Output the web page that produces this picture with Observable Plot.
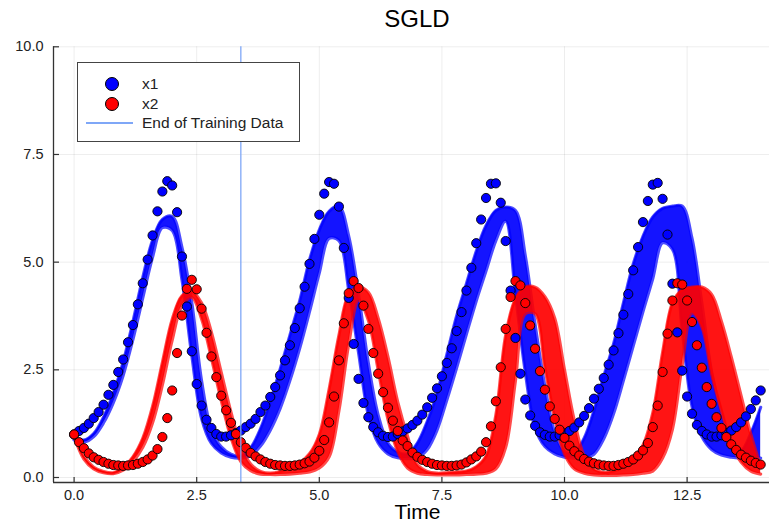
<!DOCTYPE html>
<html><head><meta charset="utf-8">
<script src="https://cdn.jsdelivr.net/npm/d3@7"></script>
<script src="https://cdn.jsdelivr.net/npm/@observablehq/plot@0.6"></script>
<style>
body{margin:0;background:#fff;font-family:"Liberation Sans",Arial,Helvetica,sans-serif;}
#wrap{position:relative;width:769px;height:531px;overflow:hidden;background:#fff;}
#chart{position:absolute;left:0;top:0;}
#title{position:absolute;left:59px;width:716px;top:5px;text-align:center;font-size:24px;color:#000;}
#legend{position:absolute;left:77px;top:62px;width:221px;height:78px;border:1px solid #444;background:#fff;}
.lg{position:absolute;left:64px;font-size:15.5px;color:#222;line-height:18px;}
.mk{position:absolute;width:14px;height:14px;border-radius:50%;border:1px solid #000;box-sizing:border-box;left:26.5px;}
.ln{position:absolute;left:8px;width:47px;height:2px;background:#7fa7f7;}
</style></head><body>
<div id="wrap">
  <div id="chart"></div>
  <div id="title">SGLD</div>
  <div id="legend">
    <div class="mk" style="top:13.5px;background:#0000ff"></div><div class="lg" style="top:12px">x1</div>
    <div class="mk" style="top:33.5px;background:#ff0000"></div><div class="lg" style="top:32px">x2</div>
    <div class="ln" style="top:59px"></div><div class="lg" style="top:51px">End of Training Data</div>
  </div>
</div>
<script>
// observed data (sampled every 0.1 from t = 0 to 14)
const x1 = [
1.00,1.08,1.15,1.25,1.38,1.52,1.69,1.92,2.15,2.45,
2.74,3.14,3.54,4.02,4.51,5.06,5.62,6.18,6.64,6.88,
6.78,6.16,5.13,3.97,2.93,2.17,1.67,1.34,1.15,1.01,
0.95,0.95,0.98,1.03,1.09,1.17,1.25,1.36,1.52,1.67,
1.87,2.10,2.37,2.72,3.07,3.47,3.93,4.43,4.96,5.54,
6.10,6.59,6.86,6.82,6.29,5.33,4.17,3.10,2.29,1.73,
1.40,1.17,1.05,0.97,0.94,0.95,1.01,1.07,1.14,1.22,
1.32,1.46,1.63,1.85,2.07,2.35,2.66,3.00,3.40,3.84,
4.34,4.87,5.44,5.99,6.49,6.82,6.83,6.38,5.49,4.34,
3.24,2.41,1.81,1.44,1.20,1.05,0.99,0.95,0.95,0.98,
1.02,1.08,1.16,1.28,1.43,1.61,1.83,2.06,2.31,2.62,
2.95,3.35,3.78,4.26,4.81,5.35,5.93,6.42,6.80,6.84,
6.47,5.64,4.50,3.37,2.48,1.88,1.48,1.22,1.08,1.00,
0.95,0.95,0.98,1.03,1.09,1.17,1.28,1.42,1.59,1.79,
2.02];
const x2 = [
1.00,0.82,0.68,0.56,0.47,0.41,0.36,0.32,0.29,0.28,
0.27,0.28,0.29,0.32,0.36,0.42,0.51,0.66,0.94,1.38,
2.02,2.89,3.76,4.38,4.59,4.37,3.92,3.36,2.81,2.33,
1.90,1.56,1.27,1.01,0.82,0.69,0.57,0.49,0.42,0.36,
0.32,0.29,0.28,0.27,0.27,0.28,0.30,0.33,0.37,0.46,
0.62,0.87,1.28,1.88,2.72,3.58,4.28,4.56,4.40,3.99,
3.45,2.89,2.41,1.98,1.62,1.32,1.08,0.86,0.73,0.58,
0.48,0.41,0.36,0.32,0.29,0.28,0.27,0.27,0.28,0.30,
0.35,0.42,0.49,0.60,0.82,1.19,1.77,2.56,3.45,4.19,
4.56,4.46,4.05,3.53,2.99,2.47,2.04,1.65,1.36,1.11,
0.92,0.74,0.61,0.51,0.43,0.37,0.33,0.30,0.28,0.27,
0.27,0.29,0.32,0.36,0.42,0.51,0.63,0.80,1.17,1.67,
2.45,3.34,4.11,4.51,4.48,4.11,3.61,3.07,2.55,2.10,
1.71,1.40,1.15,0.94,0.77,0.64,0.53,0.46,0.39,0.34,
0.30];
// posterior trajectory bundles: lower / upper edge, every 0.2 from t = 0 to 14
const x1BandLo = [0.87,0.82,0.95,1.27,1.74,2.37,3.21,4.17,5.12,5.80,5.74,
4.59,2.83,1.37,0.79,0.57,0.47,0.45,0.51,0.73,1.10,
1.60,2.25,3.00,3.85,4.75,5.55,5.50,4.35,2.90,1.45,
0.80,0.55,0.46,0.44,0.46,0.65,1.10,1.80,2.55,3.33,
4.10,4.80,5.50,5.95,4.25,2.45,1.15,0.72,0.55,0.47,
0.45,0.45,0.54,0.90,1.48,2.25,3.05,3.85,4.62,5.45,
5.30,3.40,1.65,0.95,0.65,0.52,0.47,0.45,0.45,0.45];
const x1BandHi = [0.93,0.87,1.02,1.40,1.96,2.68,3.62,4.64,5.51,5.99,6.06,
5.34,4.06,2.24,1.11,0.71,0.54,0.50,0.69,1.13,1.77,
2.51,3.30,4.10,5.05,5.75,6.18,6.30,5.60,4.25,2.65,
1.45,0.80,0.59,0.55,0.80,1.30,1.95,2.85,3.75,4.50,
5.25,5.85,6.20,6.28,6.20,5.15,3.55,2.12,1.05,0.60,
0.57,0.91,1.55,2.35,3.10,4.05,4.95,5.60,6.05,6.25,
6.30,6.30,5.55,4.05,2.45,1.50,0.85,0.63,1.03,1.63];
const x2BandLo = [0.96,0.43,0.20,0.11,0.09,0.17,0.37,0.70,1.27,2.15,3.19,
3.99,4.18,3.68,2.77,1.79,0.92,0.37,0.16,0.08,0.07,
0.07,0.08,0.10,0.13,0.22,0.48,1.55,3.10,4.12,3.65,
2.50,1.35,0.60,0.22,0.10,0.07,0.06,0.06,0.06,0.07,
0.08,0.10,0.20,0.70,2.25,3.80,3.80,2.55,1.37,0.55,
0.20,0.10,0.06,0.05,0.05,0.06,0.07,0.10,0.15,0.45,
1.12,2.62,3.82,3.50,2.40,1.55,0.80,0.36,0.15,0.08];
const x2BandHi = [1.02,0.50,0.24,0.14,0.11,0.23,0.48,0.91,1.65,2.67,3.67,
4.22,4.32,4.05,3.37,2.44,1.51,0.74,0.31,0.14,0.10,
0.14,0.24,0.34,0.55,1.00,2.05,3.30,4.25,4.42,4.30,
3.70,2.80,1.75,0.95,0.30,0.14,0.10,0.11,0.13,0.15,
0.25,0.50,1.45,3.30,4.15,4.42,4.42,4.20,3.70,2.50,
1.32,0.50,0.20,0.12,0.15,0.25,0.45,0.75,1.50,2.90,
4.05,4.36,4.42,4.42,4.25,3.62,2.80,1.90,1.00,0.25];
const trainingEnd = [3.4];
const xTicks = [0, 2.5, 5, 7.5, 10, 12.5];
const xTickLabels = ["0.0","2.5","5.0","7.5","10.0","12.5"];
const yTicks = [0, 2.5, 5, 7.5, 10];
const yTickLabels = ["0.0","2.5","5.0","7.5","10.0"];

const obs1 = x1.map((v, i) => ({t: i / 10, v}));
const obs2 = x2.map((v, i) => ({t: i / 10, v}));
const band1 = x1BandLo.map((lo, i) => ({t: i / 5, lo, hi: x1BandHi[i]}));
const band2 = x2BandLo.map((lo, i) => ({t: i / 5, lo, hi: x2BandHi[i]}));

const W = 769, H = 531, mt = 46.3, mb = 49, ml = 53, mr = 0;
const xDom = [-0.42, 14.18], yDom = [-0.116, 10];
const frameH = H - mt - mb, frameW = W - ml - mr;
const BLUE = "#0000ff", RED = "#ff0000", AX = "#333";
const font = '"Liberation Sans", Arial, Helvetica, sans-serif';

function bandMarks(data, color) {
  return [
    Plot.areaY(data, {x: "t", y1: "lo", y2: "hi", fill: color, fillOpacity: 0.92, curve: "catmull-rom"}),
    Plot.line(data, {x: "t", y: "lo", stroke: color, strokeWidth: 3.2, strokeOpacity: 0.7, curve: "catmull-rom"}),
    Plot.line(data, {x: "t", y: "hi", stroke: color, strokeWidth: 3.2, strokeOpacity: 0.7, curve: "catmull-rom"})
  ];
}

const chart = Plot.plot({
  width: W, height: H,
  marginTop: mt, marginBottom: mb, marginLeft: ml, marginRight: mr,
  x: {domain: xDom},
  y: {domain: yDom},
  style: {fontFamily: font, background: "#fff", color: "#222", overflow: "hidden"},
  marks: [
    Plot.gridX(xTicks, {stroke: "#000", strokeOpacity: 0.07, strokeWidth: 1}),
    Plot.gridY(yTicks, {stroke: "#000", strokeOpacity: 0.07, strokeWidth: 1}),
    ...bandMarks(band1, BLUE),
    ...bandMarks(band2, RED),
    Plot.dot(obs1, {x: "t", y: "v", r: 4.6, fill: BLUE, stroke: "#000", strokeWidth: 0.9}),
    Plot.dot(obs2, {x: "t", y: "v", r: 4.6, fill: RED, stroke: "#000", strokeWidth: 0.9}),
    Plot.ruleX(trainingEnd, {stroke: "#7fa7f7", strokeWidth: 1.3}),
    Plot.axisX({ticks: xTicks, tickFormat: d => xTickLabels[xTicks.indexOf(d)], tickSize: 0, tickPadding: 7, fontSize: 14.5, label: null, color: "#222"}),
    Plot.axisY({ticks: yTicks, tickFormat: d => yTickLabels[yTicks.indexOf(d)], tickSize: 0, tickPadding: 10, fontSize: 14.5, label: null, color: "#222"}),
    Plot.tickX(xTicks, {x: d => d, insetTop: frameH - 5, stroke: AX, strokeWidth: 1.2}),
    Plot.tickY(yTicks, {y: d => d, insetRight: frameW - 6, stroke: AX, strokeWidth: 1.2}),
    Plot.ruleY([yDom[0]], {stroke: AX, strokeWidth: 1.3}),
    Plot.ruleX([xDom[0]], {stroke: AX, strokeWidth: 1.3}),
    Plot.text(["Time"], {frameAnchor: "bottom", dx: 6, dy: 36, fontSize: 21, fill: "#000"})
  ]
});
document.getElementById("chart").appendChild(chart);
</script>
</body></html>
